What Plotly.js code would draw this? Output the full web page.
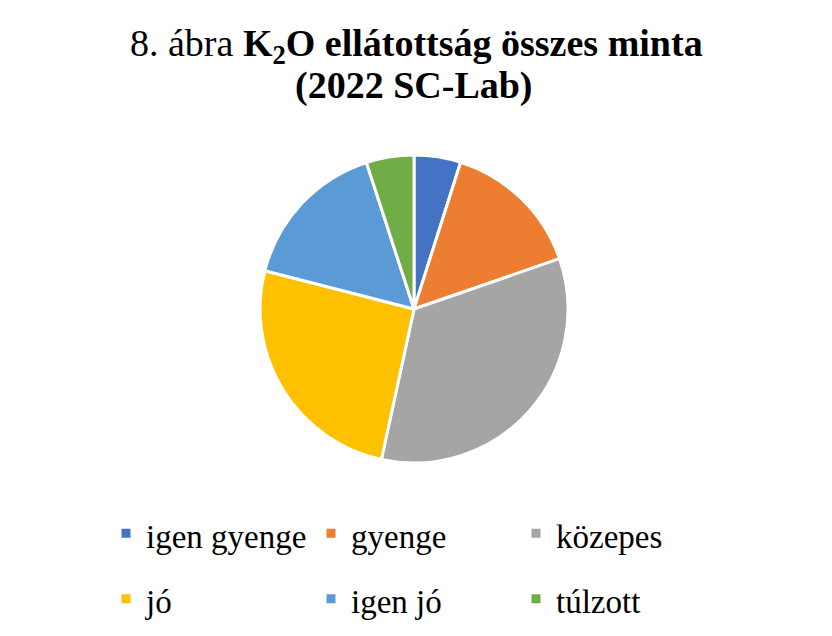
<!DOCTYPE html>
<html>
<head>
<meta charset="utf-8">
<script src="https://cdn.plot.ly/plotly-3.0.1.min.js"></script>
<style>html,body{margin:0;padding:0;background:#fff;}#chart{width:832px;height:636px;}</style>
</head>
<body>
<div id="chart"></div>
<script>
// Data (share of all samples, %)
const categories = ["igen gyenge", "gyenge", "közepes", "jó", "igen jó", "túlzott"];
const shares = [4.9, 14.8, 33.7, 25.6, 16.0, 5.0];
const colors = ["#4472C4", "#ED7D31", "#A5A5A5", "#FFC000", "#5B9BD5", "#70AD47"];

const titleLine1 = "8. ábra <b>K<sub>2</sub>O ellátottság összes minta</b>";
const titleLine2 = "<b>(2022 SC-Lab)</b>";

// legend entries built from the categories; the blank first line reproduces
// the wide row spacing of the original (Excel) legend
const legendLabels = categories.map(c =>
  '\u00A0<br><sub><span style="font-size:33px;font-family:Liberation Serif">' + c + '</span></sub>');

const W = 832, H = 636;
const ML = 106;            // left margin = left edge of the legend
const PW = W - ML;
const cx = 414, cy = 309, r = 154;

const trace = {
  type: "pie",
  labels: legendLabels,
  values: shares,
  sort: false,
  direction: "clockwise",
  rotation: 0,
  textinfo: "none",
  hoverinfo: "none",
  marker: { colors: colors, line: { color: "#ffffff", width: 3 } },
  domain: { x: [(cx - r - ML) / PW, (cx + r - ML) / PW], y: [(H - cy - r) / H, (H - cy + r) / H] }
};

const layout = {
  width: W, height: H,
  margin: { l: ML, r: 0, t: 0, b: 0 },
  paper_bgcolor: "#ffffff",
  font: { family: "Liberation Serif, Times New Roman, serif", color: "#000000" },
  showlegend: true,
  legend: {
    orientation: "h",
    x: 0, xanchor: "left",
    y: 1 - 480 / H, yanchor: "top",
    font: { family: "Liberation Serif", size: 24, color: "#000000" },
    valign: "bottom",
    itemwidth: 30,
    entrywidth: 160, entrywidthmode: "pixels",
    traceorder: "normal",
    bgcolor: "rgba(0,0,0,0)"
  },
  annotations: [
    { text: titleLine1, xref: "paper", yref: "paper", x: (416 - ML) / PW, y: 1 - 46 / H,
      xanchor: "center", yanchor: "middle", showarrow: false,
      font: { family: "Liberation Serif", size: 38, color: "#000000" } },
    { text: titleLine2, xref: "paper", yref: "paper", x: (414 - ML) / PW, y: 1 - 86 / H,
      xanchor: "center", yanchor: "middle", showarrow: false,
      font: { family: "Liberation Serif", size: 38, color: "#000000" } }
  ]
};

Plotly.newPlot("chart", [trace], layout, { displayModeBar: false, staticPlot: true });
</script>
</body>
</html>
